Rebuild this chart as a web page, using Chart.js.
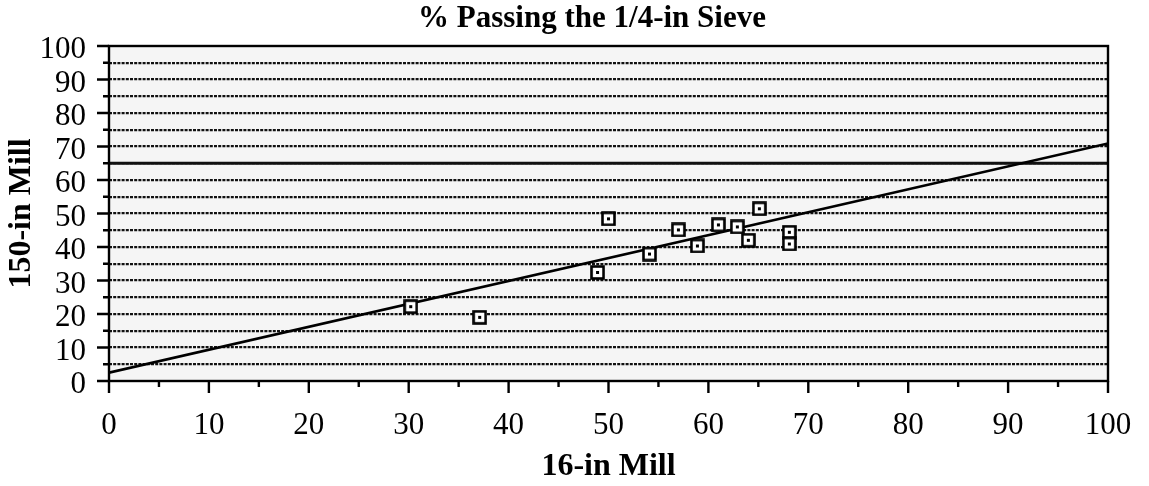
<!DOCTYPE html>
<html>
<head>
<meta charset="utf-8">
<script src="https://cdn.jsdelivr.net/npm/chart.js@4.4.0/dist/chart.umd.min.js"></script>
<style>
  html, body { margin: 0; padding: 0; background: #ffffff; }
  #wrap { width: 1149px; height: 486px; position: relative; }
</style>
</head>
<body>
<div id="wrap"><canvas id="c" width="1149" height="486"></canvas></div>
<script>
// ---- data ----
const titleText = '% Passing the 1/4-in Sieve';
const xAxisTitle = '16-in Mill';
const yAxisTitle = '150-in Mill';
const mill16 = [30.2, 37.1, 48.9, 50.0, 54.1, 57.0, 58.9, 61.0, 62.9, 64.0, 65.1, 68.1, 68.1];
const mill150 = [22.2, 19.0, 32.4, 48.4, 37.9, 45.1, 40.3, 46.6, 46.0, 42.0, 51.4, 44.4, 40.9];
const fitX = [0, 100];
const fitY = [2.5, 70.9];
const refX = [0, 100];
const refY = [65, 65];
const axisMin = 0, axisMax = 100, minorStep = 5, majorStep = 10;

const points = mill16.map((x, i) => ({ x: x, y: mill150[i] }));
const fitLine = fitX.map((x, i) => ({ x: x, y: fitY[i] }));
const refLine = refX.map((x, i) => ({ x: x, y: refY[i] }));

// square marker with a centre dot
function makeMarker() {
  const c = document.createElement('canvas');
  c.width = 15; c.height = 15;
  const g = c.getContext('2d');
  g.fillStyle = '#ffffff';
  g.fillRect(1, 1, 13, 13);
  g.strokeStyle = '#000000';
  g.lineWidth = 2.6;
  g.strokeRect(1.5, 1.5, 12, 12);
  g.fillStyle = '#000000';
  g.fillRect(6, 6, 3, 3);
  return c;
}
const marker = makeMarker();

const serif = '"Liberation Serif", "Times New Roman", serif';
const TITLE_CENTER_X = 592;

function noScalePadding(s) {
  s.paddingLeft = 0; s.paddingRight = 0; s.paddingTop = 0; s.paddingBottom = 0;
}

const framePlugin = {
  id: 'frame',
  afterLayout(chart) {
    const tb = chart.titleBlock;
    if (tb) {
      const shift = TITLE_CENTER_X - (tb.left + tb.right) / 2;
      tb.left += shift; tb.right += shift;
    }
  },
  beforeDraw(chart) {
    const { ctx, chartArea: a } = chart;
    ctx.save();
    ctx.fillStyle = '#f5f5f5';
    ctx.fillRect(a.left, a.top, a.right - a.left, a.bottom - a.top);
    ctx.restore();
  },
  afterDraw(chart) {
    const { ctx, chartArea: a, scales } = chart;
    const xs = scales.x, ys = scales.y;
    ctx.save();
    ctx.strokeStyle = '#000000';
    ctx.lineWidth = 2.4;
    ctx.strokeRect(a.left, a.top, a.right - a.left, a.bottom - a.top);
    ctx.beginPath();
    for (let v = axisMin; v <= axisMax; v += minorStep) {
      const major = v % majorStep === 0;
      const py = ys.getPixelForValue(v);
      ctx.moveTo(a.left - (major ? 12 : 6), py);
      ctx.lineTo(a.left, py);
      const px = xs.getPixelForValue(v);
      ctx.moveTo(px, a.bottom);
      ctx.lineTo(px, a.bottom + (major ? 12 : 6));
    }
    ctx.stroke();
    ctx.restore();
  }
};

new Chart(document.getElementById('c'), {
  type: 'scatter',
  data: {
    datasets: [
      {
        type: 'line',
        label: 'ref',
        data: refLine,
        borderColor: '#111111',
        borderWidth: 2.8,
        pointRadius: 0,
        fill: false,
        order: 3
      },
      {
        type: 'line',
        label: 'fit',
        data: fitLine,
        borderColor: '#000000',
        borderWidth: 2.6,
        pointRadius: 0,
        fill: false,
        order: 2
      },
      {
        label: 'data',
        data: points,
        pointStyle: marker,
        pointRadius: 7.5,
        order: 1
      }
    ]
  },
  options: {
    responsive: false,
    animation: false,
    devicePixelRatio: 1,
    layout: { padding: { left: 0, right: 41, top: 0, bottom: 0 } },
    plugins: {
      legend: { display: false },
      tooltip: { enabled: false },
      title: {
        display: true,
        text: titleText,
        color: '#000000',
        font: { family: serif, size: 31, weight: 'bold', lineHeight: 1.2 },
        padding: { top: 0, bottom: 8.8 }
      }
    },
    scales: {
      x: {
        type: 'linear',
        min: axisMin, max: axisMax,
        afterFit(s) { s.height = 105; noScalePadding(s); },
        ticks: {
          stepSize: majorStep,
          autoSkip: false,
          color: '#000000',
          padding: 26,
          maxRotation: 0,
          font: { family: serif, size: 31 }
        },
        grid: { display: false, drawTicks: false },
        border: { display: false },
        title: {
          display: true,
          text: xAxisTitle,
          color: '#000000',
          font: { family: serif, size: 32, weight: 'bold', lineHeight: 1.2 },
          padding: { top: 0, bottom: 0 }
        }
      },
      y: {
        type: 'linear',
        min: axisMin, max: axisMax,
        afterFit(s) { s.width = 109; noScalePadding(s); },
        afterBuildTicks(s) {
          s.ticks = [];
          for (let v = axisMin; v <= axisMax; v += minorStep) s.ticks.push({ value: v });
        },
        ticks: {
          autoSkip: false,
          color: '#000000',
          padding: 23,
          labelOffset: 4,
          font: { family: serif, size: 31 },
          callback(v) { return v % majorStep === 0 ? String(v) : ''; }
        },
        grid: {
          drawTicks: false,
          color(ctx) {
            const v = ctx.tick ? ctx.tick.value : null;
            return (v === axisMin || v === axisMax) ? 'rgba(0,0,0,0)' : '#111111';
          },
          lineWidth: 2.2
        },
        border: { display: false, dash: [3, 1.2] },
        title: {
          display: true,
          text: yAxisTitle,
          color: '#000000',
          font: { family: serif, size: 32, weight: 'bold', lineHeight: 1.2 },
          padding: { top: 3, bottom: 0 }
        }
      }
    }
  },
  plugins: [framePlugin]
});
</script>
</body>
</html>
